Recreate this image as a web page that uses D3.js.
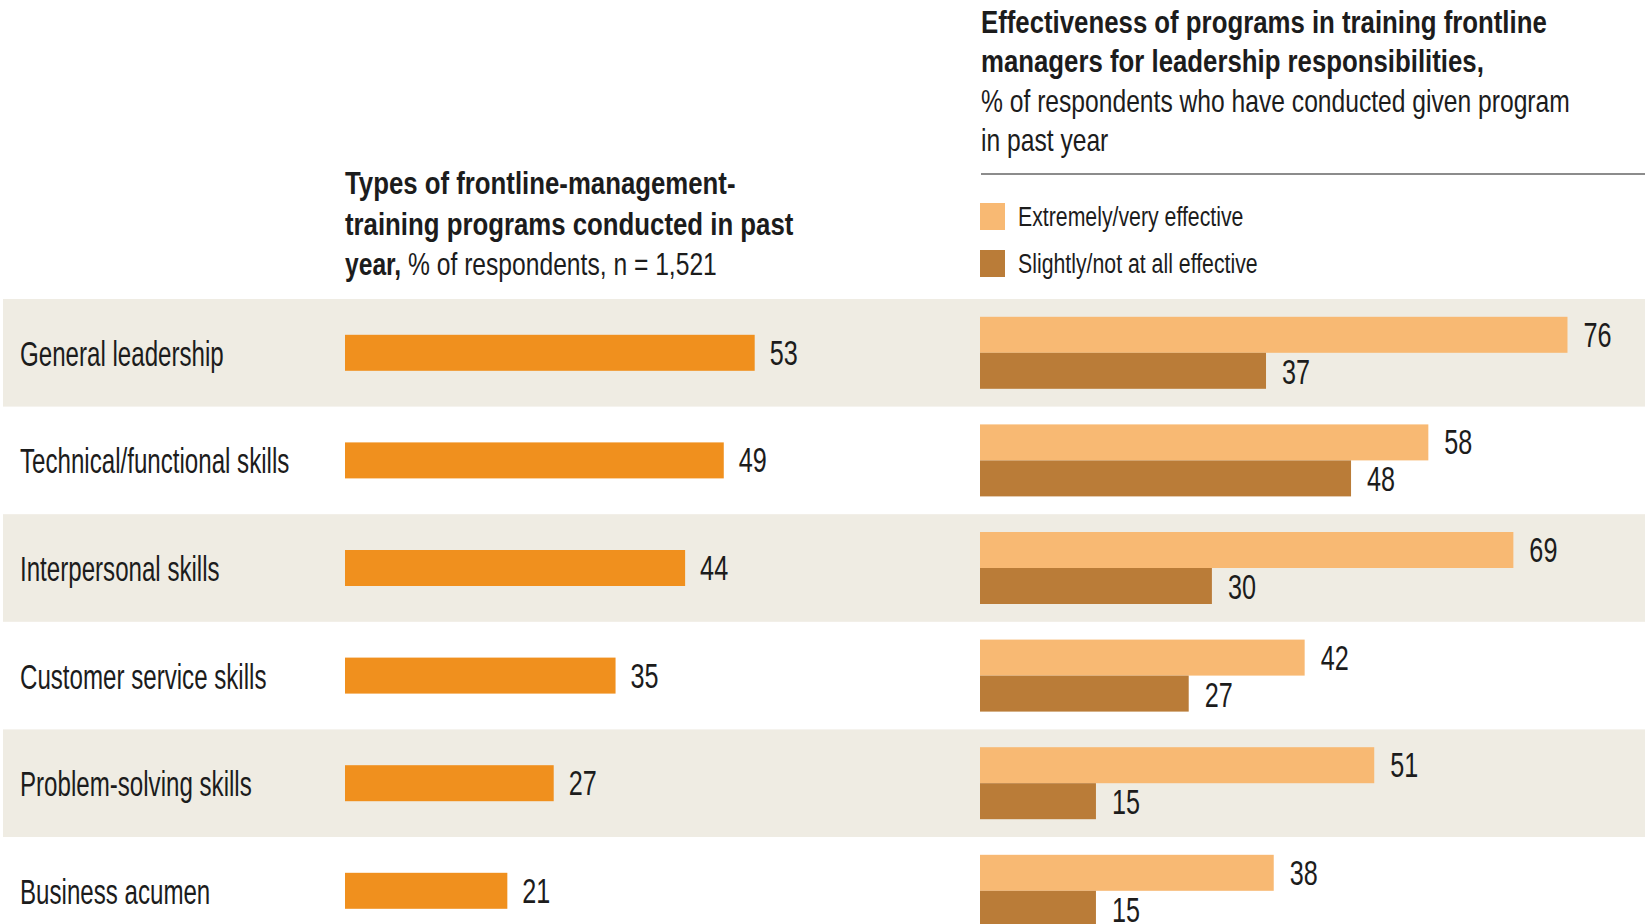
<!DOCTYPE html>
<html>
<head>
<meta charset="utf-8">
<script src="https://cdn.jsdelivr.net/npm/d3@7"></script>
<style>
  html, body { margin: 0; padding: 0; background: #fff; overflow: hidden; }
  svg { display: block; font-family: "Liberation Sans", Arial, sans-serif; }
</style>
</head>
<body>
<svg id="chart" width="1645" height="924"></svg>
<script>
// Survey data
const categories = [
  "General leadership",
  "Technical/functional skills",
  "Interpersonal skills",
  "Customer service skills",
  "Problem-solving skills",
  "Business acumen"
];
const programsConducted = [53, 49, 44, 35, 27, 21];
const extremelyEffective = [76, 58, 69, 42, 51, 38];
const slightlyEffective = [37, 48, 30, 27, 15, 15];

const seriesLabels = ["Extremely/very effective", "Slightly/not at all effective"];

const colors = {
  conducted: "#f0901e",
  effective: "#f8b973",
  notEffective: "#ba7c38",
  band: "#efece3",
  text: "#1c1c1c",
  rule: "#8c8c8c"
};

const W = 1645, H = 924;
const svg = d3.select("#chart");

// Text styles: condensed look via horizontal scaling
const styles = {
  cat:    { size: 36, k: 0.67, weight: 400 },
  value:  { size: 35, k: 0.72, weight: 400 },
  titleB: { size: 32, k: 0.806, weight: 700 },
  titleR: { size: 32, k: 0.77, weight: 400 },
  legend: { size: 28, k: 0.76, weight: 400 }
};

function label(parent, x, y, style, parts) {
  const s = styles[style];
  const t = parent.append("text")
    .attr("transform", `translate(${x},${y}) scale(${s.k},1)`)
    .attr("font-size", s.size)
    .attr("font-weight", s.weight)
    .attr("fill", colors.text);
  if (typeof parts === "string") {
    t.text(parts);
  } else {
    parts.forEach(p => t.append("tspan").attr("font-weight", p.bold ? 700 : 400).text(p.text));
  }
  return t;
}

// Row layout
const y = d3.scaleBand()
  .domain(categories)
  .range([299, 299 + 6 * 107.6])
  .paddingInner(0)
  .paddingOuter(0);

const xLeft = d3.scaleLinear().domain([0, 100]).range([345, 345 + 773]);
const xRight = d3.scaleLinear().domain([0, 100]).range([980, 980 + 773]);

const barH = 36;

// Alternating row bands
svg.append("g").selectAll("rect")
  .data(categories.filter((d, i) => i % 2 === 0))
  .join("rect")
  .attr("x", 3)
  .attr("y", d => y(d))
  .attr("width", W - 3)
  .attr("height", y.bandwidth())
  .attr("fill", colors.band);

const rows = categories.map((c, i) => ({
  cat: c,
  conducted: programsConducted[i],
  eff: extremelyEffective[i],
  notEff: slightlyEffective[i],
  cy: y(c) + y.bandwidth() / 2
}));

// Category labels
const catG = svg.append("g");
rows.forEach(r => label(catG, 20, r.cy + 13, "cat", r.cat));

// Left panel: programs conducted
const leftG = svg.append("g");
leftG.selectAll("rect")
  .data(rows)
  .join("rect")
  .attr("x", xLeft(0))
  .attr("y", d => d.cy - barH / 2)
  .attr("width", d => xLeft(d.conducted) - xLeft(0))
  .attr("height", barH)
  .attr("fill", colors.conducted);
rows.forEach(r => label(leftG, xLeft(r.conducted) + 15, r.cy + 12, "value", String(r.conducted)));

// Right panel: effectiveness pairs
const rightG = svg.append("g");
rightG.selectAll("rect.eff")
  .data(rows)
  .join("rect")
  .attr("class", "eff")
  .attr("x", xRight(0))
  .attr("y", d => d.cy - barH)
  .attr("width", d => xRight(d.eff) - xRight(0))
  .attr("height", barH)
  .attr("fill", colors.effective);
rightG.selectAll("rect.noteff")
  .data(rows)
  .join("rect")
  .attr("class", "noteff")
  .attr("x", xRight(0))
  .attr("y", d => d.cy)
  .attr("width", d => xRight(d.notEff) - xRight(0))
  .attr("height", barH)
  .attr("fill", colors.notEffective);
rows.forEach(r => {
  label(rightG, xRight(r.eff) + 16, r.cy - barH / 2 + 12, "value", String(r.eff));
  label(rightG, xRight(r.notEff) + 16, r.cy + barH / 2 + 13, "value", String(r.notEff));
});

// Left title
const lt = svg.append("g");
label(lt, 345, 194, "titleB", "Types of frontline-management-");
label(lt, 345, 235, "titleB", "training programs conducted in past");
label(lt, 345, 275, "titleR", [{ text: "year,", bold: true }, { text: " % of respondents, n = 1,521" }]);

// Right title
const rt = svg.append("g");
label(rt, 981, 33, "titleB", "Effectiveness of programs in training frontline");
label(rt, 981, 72, "titleB", "managers for leadership responsibilities,");
label(rt, 981, 112, "titleR", "% of respondents who have conducted given program");
label(rt, 981, 151, "titleR", "in past year");

rt.append("line")
  .attr("x1", 981).attr("x2", W)
  .attr("y1", 174).attr("y2", 174)
  .attr("stroke", colors.rule)
  .attr("stroke-width", 2);

// Legend
const legend = svg.append("g");
const legendColors = [colors.effective, colors.notEffective];
const legendY = d3.scalePoint().domain(seriesLabels).range([203, 250]);
seriesLabels.forEach((s, i) => {
  legend.append("rect")
    .attr("x", 980)
    .attr("y", legendY(s))
    .attr("width", 25)
    .attr("height", 27)
    .attr("fill", legendColors[i]);
  label(legend, 1018, legendY(s) + 23, "legend", s);
});
</script>
</body>
</html>
